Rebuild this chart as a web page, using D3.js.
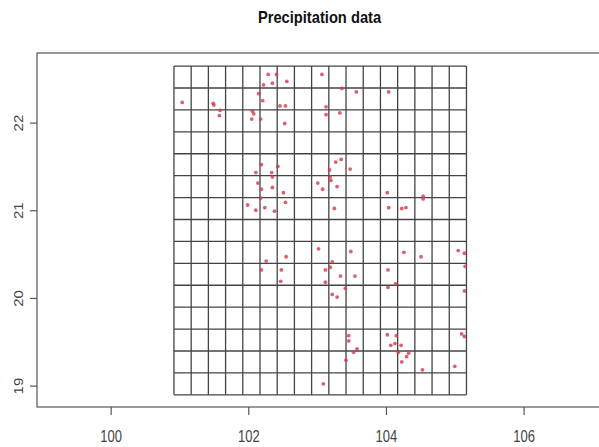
<!DOCTYPE html>
<html>
<head>
<meta charset="utf-8">
<script src="https://cdn.jsdelivr.net/npm/d3@7"></script>
<style>
  body { margin: 0; background: #fff; }
  text { font-family: "Liberation Sans", Arial, sans-serif; }
</style>
</head>
<body>
<svg id="chart" width="599" height="447"></svg>
<script>
// station longitudes / latitudes
const lon = [
  101.04, 101.49, 101.50, 101.59, 101.58, 102.29, 102.41, 102.22, 102.35, 102.56,
  102.15, 102.21, 102.46, 102.54, 102.06, 102.08, 102.05, 102.18, 102.53, 102.19,
  102.43, 102.11, 102.34, 102.35, 102.14, 102.19, 102.35, 102.51, 103.01, 102.18,
  102.54, 101.99, 102.11, 102.24, 102.38, 103.07, 103.36, 103.57, 104.04, 103.13,
  103.13, 103.33, 103.35, 103.27, 103.48, 103.18, 103.19, 103.20, 103.08, 103.29,
  104.02, 104.54, 104.54, 103.25, 104.04, 104.23, 104.29, 102.26, 102.55, 102.19,
  102.48, 102.47, 103.02, 103.49, 104.26, 104.51, 105.05, 105.14, 105.15, 103.22,
  103.19, 103.12, 103.34, 103.55, 104.03, 103.12, 103.41, 104.03, 104.14, 105.14,
  103.22, 103.29, 103.46, 103.46, 103.58, 103.53, 103.42, 104.02, 104.15, 104.07,
  104.13, 104.22, 104.18, 104.33, 104.30, 104.23, 104.53, 105.00, 105.10, 105.14,
  103.09
];
const lat = [
  22.23, 22.22, 22.20, 22.14, 22.08, 22.55, 22.55, 22.43, 22.45, 22.47,
  22.33, 22.25, 22.19, 22.19, 22.13, 22.10, 22.04, 22.04, 21.99, 21.52,
  21.50, 21.43, 21.43, 21.38, 21.31, 21.24, 21.26, 21.20, 21.31, 21.14,
  21.09, 21.06, 21.00, 21.03, 20.99, 22.55, 22.39, 22.35, 22.35, 22.18,
  22.09, 22.11, 21.58, 21.55, 21.47, 21.46, 21.38, 21.34, 21.24, 21.27,
  21.20, 21.16, 21.13, 21.02, 21.03, 21.02, 21.03, 20.42, 20.47, 20.32,
  20.32, 20.19, 20.56, 20.53, 20.52, 20.47, 20.54, 20.51, 20.36, 20.41,
  20.35, 20.32, 20.25, 20.25, 20.32, 20.18, 20.11, 20.12, 20.16, 20.08,
  20.04, 20.01, 19.57, 19.51, 19.42, 19.38, 19.29, 19.58, 19.57, 19.46,
  19.48, 19.46, 19.38, 19.37, 19.33, 19.27, 19.18, 19.22, 19.59, 19.56,
  19.02
];
const xTicks = [100, 102, 104, 106];
const yTicks = [19, 20, 21, 22];
// 0.25 degree grid cells
const gridLon = d3.range(0, 18).map(i => 100.92 + i * 0.25);
const gridLat = d3.range(0, 16).map(i => 18.895 + i * 0.25);

const svg = d3.select('#chart');

// plot region (right border falls off the picture)
const x = d3.scaleLinear().domain([98.93, 107.36]).range([37, 617.2]);
const y = d3.scaleLinear().domain([18.756, 22.794]).range([407, 53]);

// title, picture is a little stretched vertically
svg.append('text')
    .attr('transform', 'translate(319.5,23) scale(1,1.15)')
    .attr('text-anchor', 'middle')
    .style('font-size', '14.7px')
    .style('font-weight', 'bold')
    .style('fill', '#111')
    .text('Precipitation data');

// grid
const grid = svg.append('g').attr('class', 'grid')
    .attr('stroke', '#444').attr('stroke-width', 1.3);
grid.selectAll('line.v')
    .data(gridLon)
    .enter().append('line')
      .attr('class', 'v')
      .attr('x1', d => x(d)).attr('x2', d => x(d))
      .attr('y1', y(gridLat[0])).attr('y2', y(gridLat[gridLat.length - 1]));
grid.selectAll('line.h')
    .data(gridLat)
    .enter().append('line')
      .attr('class', 'h')
      .attr('y1', d => y(d)).attr('y2', d => y(d))
      .attr('x1', x(gridLon[0])).attr('x2', x(gridLon[gridLon.length - 1]));

// points
svg.append('g').attr('class', 'points')
    .selectAll('circle')
    .data(d3.zip(lon, lat))
    .enter().append('circle')
      .attr('cx', d => x(d[0]))
      .attr('cy', d => y(d[1]))
      .attr('r', 1.9)
      .attr('fill', '#d23a4c')
      .attr('fill-opacity', 0.8);

// box
svg.append('rect')
    .attr('x', x.range()[0]).attr('y', y.range()[1])
    .attr('width', x.range()[1] - x.range()[0])
    .attr('height', y.range()[0] - y.range()[1])
    .attr('fill', 'none')
    .attr('stroke', '#555')
    .attr('stroke-width', 1.2);

// x axis
const gx = svg.append('g')
    .attr('transform', `translate(0,${y.range()[0]})`)
    .call(d3.axisBottom(x).tickValues(xTicks).tickSize(8).tickFormat(d3.format('d')));
gx.select('.domain').remove();
gx.selectAll('.tick line').attr('stroke', '#555').attr('stroke-width', 1.2);
gx.selectAll('.tick text')
    .attr('y', 28).attr('dy', 0)
    .attr('transform', 'scale(1,1.25)')
    .style('font-size', '13px')
    .style('fill', '#444');

// y axis
const gy = svg.append('g')
    .attr('transform', `translate(${x.range()[0]},0)`)
    .call(d3.axisLeft(y).tickValues(yTicks).tickSize(7).tickFormat(d3.format('d')));
gy.select('.domain').remove();
gy.selectAll('.tick line').attr('stroke', '#555').attr('stroke-width', 1.2);
gy.selectAll('.tick text')
    .attr('x', 0).attr('y', 0).attr('dy', 0)
    .attr('text-anchor', 'middle')
    .attr('transform', 'translate(-14.5,0) rotate(-90) scale(1.15,1)')
    .style('font-size', '13px')
    .style('fill', '#444');
</script>
</body>
</html>
